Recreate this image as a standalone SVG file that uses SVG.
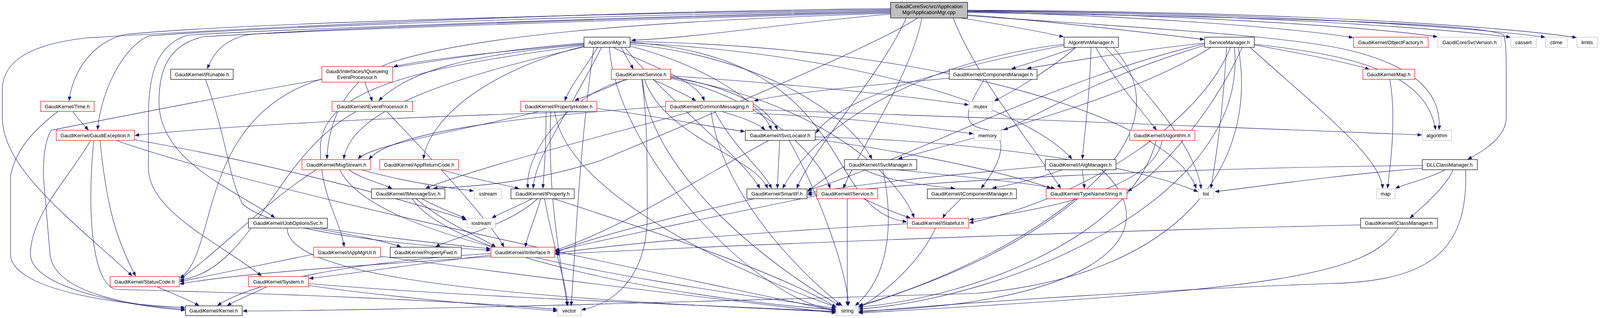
<svg xmlns="http://www.w3.org/2000/svg" width="4531" height="813" viewBox="0 0 4531 813">
<style>
.e path{fill:none;stroke:#191970;stroke-width:1.1;marker-end:url(#a)}
.b{fill:#fff;stroke:#000;stroke-width:1.2}
.r{fill:#fff;stroke:#ff0000;stroke-width:1.2}
.g{fill:#fff;stroke:#bfbfbf;stroke-width:1.2}
.root{fill:#bfbfbf;stroke:#000;stroke-width:1.2}
text{font-family:"Liberation Sans",Arial,Helvetica,sans-serif;font-size:13px;text-anchor:middle;fill:#000}
</style>
<defs>
<marker id="a" markerWidth="11" markerHeight="8" refX="10" refY="4" orient="auto" markerUnits="userSpaceOnUse"><path d="M0,0 L10,4 L0,8 z" fill="#191970" stroke="#191970"/></marker>
</defs>
<rect width="4531" height="813" fill="#fff"/>
<g class="e" id="edges">
<path d="M2280,36 C2000,60 1800,95 1617,103"/>
<path d="M2460,46 C2560,62 2650,78 2722,94"/>
<path d="M2477,38 C2700,55 2950,85 3082,101"/>
<path d="M2477,30 C2900,40 3300,70 3463,96"/>
<path d="M2477,29 C3000,36 3500,68 3679,94"/>
<path d="M2477,28 C3100,33 3650,68 3866,95"/>
<path d="M2477,27 C3200,31 3750,68 3955,95"/>
<path d="M2477,26 C3300,29 3850,68 4035,96"/>
<path d="M2477,32 C3300,45 3800,60 3850,90 C3856,110 3856,150 3856,200 L3856,300 C3856,350 3800,385 3758,407"/>
<path d="M2477,40 C2900,70 3300,90 3460,130 C3640,175 3690,250 3684,331"/>
<path d="M2280,24 C1500,35 600,60 320,88 C230,110 185,190 177,257"/>
<path d="M2280,26 C1500,40 650,70 380,92 C300,130 255,260 250,331"/>
<path d="M2280,22 C1400,30 500,80 220,97 C90,112 6,150 6,230 L6,300 C6,430 180,560 338,705"/>
<path d="M2280,30 C1500,48 800,75 640,88 C570,100 545,140 531,175"/>
<path d="M2280,32 C1500,52 700,82 520,94 C430,115 407,180 407,260 C407,410 590,480 703,556"/>
<path d="M2280,28 C1500,46 650,78 480,90 C400,115 380,190 380,300 L380,430 C380,540 560,620 669,705"/>
<path d="M2280,34 C1600,55 1200,95 1000,160 C870,210 840,330 837,406"/>
<path d="M2349,46 C2250,113 1800,300 1539,410 C1350,470 1200,478 1110,481"/>
<path d="M2320,46 C2250,200 2080,380 2040,481"/>
<path d="M2360,46 C2330,200 2200,380 2159,481"/>
<path d="M2440,46 C2500,200 2650,380 2715,481"/>
<path d="M1495,112 C1300,130 1100,150 1008,170"/>
<path d="M1495,114 C1200,140 1050,180 970,257"/>
<path d="M1590,121 C1600,140 1612,160 1621,176"/>
<path d="M1530,121 C1500,170 1460,220 1446,257"/>
<path d="M1570,121 C1640,160 1780,200 1803,257"/>
<path d="M1613,118 C1780,160 1940,250 1975,331"/>
<path d="M1613,113 C1900,140 2150,260 2232,406"/>
<path d="M1613,110 C2100,130 2600,250 2744,406"/>
<path d="M1613,108 C2200,150 2100,540 2321,567"/>
<path d="M1495,116 C1100,170 820,220 820,380 C820,500 870,560 881,630"/>
<path d="M1495,118 C1250,180 1100,300 1084,406"/>
<path d="M1540,121 C1450,300 1370,400 1365,481"/>
<path d="M1495,120 C1150,200 900,280 880,406"/>
<path d="M1495,110 C1100,140 400,280 131,333 C115,360 111,400 111,450 L128,650 C140,760 380,785 473,790"/>
<path d="M1613,106 C2400,120 3000,300 3062,481"/>
<path d="M1560,121 C1580,400 1950,780 2139,791"/>
<path d="M1520,121 C1480,400 1470,700 1462,781"/>
<path d="M1600,121 C1700,250 1900,400 1945,481"/>
<path d="M934,210 C940,230 948,245 953,258"/>
<path d="M824,202 C500,300 560,650 461,710"/>
<path d="M912,285 C700,400 650,690 461,716"/>
<path d="M990,285 C1100,400 1250,560 1290,631"/>
<path d="M186,285 C200,305 215,320 226,332"/>
<path d="M148,285 C90,330 40,380 27,450 L27,650 C27,740 300,780 473,786"/>
<path d="M256,359 C270,500 290,600 347,705"/>
<path d="M232,359 C180,450 78,550 78,650 C78,740 350,785 473,793"/>
<path d="M344,357 C700,420 1000,500 1194,562"/>
<path d="M297,359 C700,500 1700,700 2139,795"/>
<path d="M240,359 C220,560 240,735 300,740 C700,750 1200,770 1426,791"/>
<path d="M526,203 C580,350 584,450 620,520 C700,600 1100,630 1255,640"/>
<path d="M1600,203 C1560,225 1500,245 1472,257"/>
<path d="M1670,203 C1720,225 1760,245 1781,257"/>
<path d="M1717,196 C1850,220 1960,260 1990,331"/>
<path d="M1607,203 C1450,240 1340,400 1352,481"/>
<path d="M1717,200 C1950,250 2100,400 2125,481"/>
<path d="M1717,198 C2100,260 2300,450 2340,556"/>
<path d="M1650,203 C1700,350 1930,400 1965,481"/>
<path d="M1717,194 C2100,220 2350,250 2479,268"/>
<path d="M1645,203 C1660,450 2000,700 2150,781"/>
<path d="M1643,203 C1657,300 1657,400 1657,550 C1657,700 1580,775 1489,792"/>
<path d="M1510,285 C1000,300 600,320 346,346"/>
<path d="M1398,285 C1398,400 1392,440 1390,481"/>
<path d="M1380,285 C1200,330 950,370 917,406"/>
<path d="M1420,285 C1450,500 1900,700 2140,785"/>
<path d="M1410,285 C1400,500 1440,700 1452,781"/>
<path d="M1528,277 C1700,300 1850,330 1906,336"/>
<path d="M1847,285 C1900,300 1940,315 1958,332"/>
<path d="M1771,285 C1500,360 1250,420 1090,481"/>
<path d="M1830,285 C1880,380 1950,430 1975,481"/>
<path d="M1928,290 C2200,300 2400,330 2491,342"/>
<path d="M1820,285 C1850,500 2050,700 2155,781"/>
<path d="M1704,272 C1300,300 1000,340 945,407"/>
<path d="M1928,280 C2500,300 3300,330 3639,345"/>
<path d="M1996,359 C1994,400 1992,440 1990,481"/>
<path d="M1968,359 C1800,450 1600,580 1422,640"/>
<path d="M2020,359 C2100,500 2170,700 2172,781"/>
<path d="M2087,350 C2500,360 2900,420 3066,490"/>
<path d="M2087,356 C2400,400 2600,450 2690,481"/>
<path d="M2520,203 C2470,280 2460,320 2520,330 C2580,340 2575,400 2512,481"/>
<path d="M2430,200 C2200,220 2000,240 1931,258"/>
<path d="M2755,121 C2700,140 2640,160 2590,176"/>
<path d="M2754,121 C2700,170 2600,230 2546,258"/>
<path d="M2805,121 C2850,200 2920,280 2960,332"/>
<path d="M2793,121 C2790,250 2775,350 2771,406"/>
<path d="M2724,113 C2400,150 2100,300 2004,481"/>
<path d="M2830,121 C2950,250 3060,380 3075,482"/>
<path d="M2850,121 C3100,400 2500,700 2199,781"/>
<path d="M2724,116 C2400,180 2150,250 2089,340"/>
<path d="M3084,110 C2900,130 2750,155 2630,175"/>
<path d="M3211,115 C3350,140 3450,160 3505,177"/>
<path d="M3211,113 C3450,140 3650,180 3675,331"/>
<path d="M3140,121 C3130,300 3110,420 3100,481"/>
<path d="M3200,121 C3400,300 3530,400 3540,481"/>
<path d="M3084,116 C2800,200 2650,300 2570,332"/>
<path d="M3084,112 C2700,200 2300,420 2068,486"/>
<path d="M3100,121 C2900,250 2500,350 2300,406"/>
<path d="M3160,121 C3200,500 2600,760 2199,790"/>
<path d="M3170,121 C3220,400 3050,700 2500,750 C1500,780 900,795 622,795"/>
<path d="M3150,121 C3080,300 2800,500 2482,570"/>
<path d="M3180,121 C3100,300 2950,460 2887,488"/>
<path d="M3558,203 C3575,300 3560,420 3552,481"/>
<path d="M2975,359 C2960,450 2800,520 2482,562"/>
<path d="M2960,359 C2900,600 2500,760 2199,785"/>
<path d="M2215,434 C2250,455 2330,470 2444,482"/>
<path d="M2295,434 C2500,455 2650,470 2700,482"/>
<path d="M2162,425 C2120,450 2090,470 2068,490"/>
<path d="M2260,434 C2285,550 2285,700 2190,781"/>
<path d="M2720,434 C2660,455 2600,470 2541,481"/>
<path d="M2770,434 C2773,450 2775,465 2776,481"/>
<path d="M2676,425 C2400,450 2200,470 2068,494"/>
<path d="M2820,434 C3000,600 2800,780 2199,795"/>
<path d="M3641,430 C3400,450 3200,480 3111,490"/>
<path d="M3700,434 C3660,455 3600,470 3573,481"/>
<path d="M3720,434 C3700,480 3640,530 3610,557"/>
<path d="M3752,434 C3760,650 3650,720 3400,725 C3000,740 2500,770 2199,798"/>
<path d="M3641,423 C3000,430 2400,460 2068,498"/>
<path d="M3483,575 C2800,590 1800,630 1422,650"/>
<path d="M3580,583 C3500,700 3300,740 2199,800"/>
<path d="M1080,508 C1120,530 1160,545 1192,558"/>
<path d="M1065,508 C1150,580 1240,610 1268,631"/>
<path d="M1055,508 C1150,650 1700,760 2139,792"/>
<path d="M893,434 C920,455 980,470 1003,482"/>
<path d="M925,434 C1000,455 1100,475 1212,488"/>
<path d="M870,434 C950,600 1500,700 2139,788"/>
<path d="M810,434 C700,500 550,650 463,712"/>
<path d="M1130,434 C1200,455 1280,470 1328,482"/>
<path d="M1362,508 C1320,530 1280,545 1260,557"/>
<path d="M1376,508 C1300,580 1150,610 1116,631"/>
<path d="M1384,508 C1370,560 1350,600 1345,631"/>
<path d="M1394,508 C1420,650 1450,720 1453,781"/>
<path d="M1417,508 C1700,600 2000,700 2140,785"/>
<path d="M1931,508 C1700,560 1500,610 1422,646"/>
<path d="M2169,508 C2169,600 2169,700 2169,781"/>
<path d="M2210,508 C2260,530 2290,545 2330,557"/>
<path d="M2091,500 C1800,560 1600,600 1422,642"/>
<path d="M2460,508 C2440,530 2420,545 2414,557"/>
<path d="M2759,508 C2600,640 2400,720 2199,784"/>
<path d="M2323,572 C2000,590 1600,620 1422,648"/>
<path d="M2395,583 C2350,680 2250,760 2199,786"/>
<path d="M800,583 C900,600 980,615 1026,631"/>
<path d="M820,583 C1000,610 1150,625 1255,636"/>
<path d="M735,583 C735,700 1200,760 2139,797"/>
<path d="M803,650 C700,670 560,700 461,720"/>
<path d="M974,655 C1300,700 1800,760 2139,800"/>
<path d="M1257,652 C1100,670 900,700 792,712"/>
<path d="M1257,656 C900,680 600,700 461,726"/>
<path d="M1257,648 C900,670 650,720 557,781"/>
<path d="M683,733 C650,750 610,765 582,781"/>
<path d="M790,725 C1200,760 1800,780 2139,796"/>
<path d="M790,730 C1000,760 1300,785 1426,795"/>
<path d="M402,733 C440,750 480,765 509,781"/>
</g>
<g id="n_root"><rect class="root" x="2280" y="6" width="197" height="40"/><text x="2378" y="21">GaudiCoreSvc/src/Application</text><text x="2378" y="36">Mgr/ApplicationMgr.cpp</text></g>
<g id="n_appmgr"><rect class="b" x="1495" y="95" width="118" height="26"/><text x="1554" y="112.5">ApplicationMgr.h</text></g>
<g id="n_algmgr"><rect class="b" x="2724" y="95" width="139" height="26"/><text x="2793" y="112.5">AlgorithmManager.h</text></g>
<g id="n_svcmgr"><rect class="b" x="3084" y="95" width="127" height="26"/><text x="3147" y="112.5">ServiceManager.h</text></g>
<g id="n_objfac"><rect class="r" x="3465" y="95" width="191" height="26"/><text x="3560" y="112.5">GaudiKernel/ObjectFactory.h</text></g>
<g id="n_ver"><rect class="g" x="3681" y="95" width="162" height="26"/><text x="3762" y="112.5">GaudiCoreSvcVersion.h</text></g>
<g id="n_cassert"><rect class="g" x="3868" y="95" width="65" height="26"/><text x="3900" y="112.5">cassert</text></g>
<g id="n_ctime"><rect class="g" x="3957" y="95" width="55" height="26"/><text x="3984" y="112.5">ctime</text></g>
<g id="n_limits"><rect class="g" x="4037" y="95" width="53" height="26"/><text x="4063" y="112.5">limits</text></g>
<g id="n_irunable"><rect class="b" x="437" y="177" width="160" height="26"/><text x="517" y="194.5">GaudiKernel/IRunable.h</text></g>
<g id="n_iqep"><rect class="r" x="824" y="170" width="181" height="40"/><text x="914" y="186.5">Gaudi/Interfaces/IQueueing</text><text x="914" y="201.5">EventProcessor.h</text></g>
<g id="n_service"><rect class="r" x="1565" y="177" width="152" height="26"/><text x="1641" y="194.5">GaudiKernel/Service.h</text></g>
<g id="n_compmgr"><rect class="b" x="2430" y="177" width="225" height="26"/><text x="2542" y="194.5">GaudiKernel/ComponentManager.h</text></g>
<g id="n_maph"><rect class="r" x="3489" y="177" width="133" height="26"/><text x="3555" y="194.5">GaudiKernel/Map.h</text></g>
<g id="n_time"><rect class="r" x="104" y="259" width="137" height="26"/><text x="172" y="276.5">GaudiKernel/Time.h</text></g>
<g id="n_iep"><rect class="r" x="850" y="259" width="206" height="26"/><text x="953" y="276.5">GaudiKernel/IEventProcessor.h</text></g>
<g id="n_propholder"><rect class="r" x="1333" y="259" width="195" height="26"/><text x="1430" y="276.5">GaudiKernel/PropertyHolder.h</text></g>
<g id="n_commsg"><rect class="r" x="1704" y="259" width="224" height="26"/><text x="1816" y="276.5">GaudiKernel/CommonMessaging.h</text></g>
<g id="n_mutex"><rect class="g" x="2481" y="259" width="59" height="26"/><text x="2510" y="276.5">mutex</text></g>
<g id="n_gexc"><rect class="r" x="144" y="333" width="200" height="26"/><text x="244" y="350.5">GaudiKernel/GaudiException.h</text></g>
<g id="n_isvcloc"><rect class="b" x="1908" y="333" width="179" height="26"/><text x="1997" y="350.5">GaudiKernel/ISvcLocator.h</text></g>
<g id="n_memory"><rect class="g" x="2493" y="333" width="70" height="26"/><text x="2528" y="350.5">memory</text></g>
<g id="n_ialg"><rect class="r" x="2892" y="333" width="167" height="26"/><text x="2975" y="350.5">GaudiKernel/IAlgorithm.h</text></g>
<g id="n_algorithm"><rect class="g" x="3641" y="333" width="75" height="26"/><text x="3678" y="350.5">algorithm</text></g>
<g id="n_msgstream"><rect class="r" x="773" y="408" width="176" height="26"/><text x="861" y="425.5">GaudiKernel/MsgStream.h</text></g>
<g id="n_apprc"><rect class="r" x="972" y="408" width="202" height="26"/><text x="1073" y="425.5">GaudiKernel/AppReturnCode.h</text></g>
<g id="n_isvcmgr"><rect class="b" x="2162" y="408" width="185" height="26"/><text x="2254" y="425.5">GaudiKernel/ISvcManager.h</text></g>
<g id="n_ialgmgr"><rect class="b" x="2676" y="408" width="181" height="26"/><text x="2766" y="425.5">GaudiKernel/IAlgManager.h</text></g>
<g id="n_dllcm"><rect class="b" x="3641" y="408" width="141" height="26"/><text x="3711" y="425.5">DLLClassManager.h</text></g>
<g id="n_imsgsvc"><rect class="b" x="951" y="483" width="188" height="25"/><text x="1045" y="500">GaudiKernel/IMessageSvc.h</text></g>
<g id="n_sstream"><rect class="g" x="1214" y="483" width="70" height="25"/><text x="1249" y="500">sstream</text></g>
<g id="n_iprop"><rect class="b" x="1308" y="483" width="162" height="25"/><text x="1389" y="500">GaudiKernel/IProperty.h</text></g>
<g id="n_smartif"><rect class="b" x="1912" y="483" width="154" height="25"/><text x="1989" y="500">GaudiKernel/SmartIF.h</text></g>
<g id="n_iservice"><rect class="r" x="2091" y="483" width="156" height="25"/><text x="2169" y="500">GaudiKernel/IService.h</text></g>
<g id="n_icompmgr"><rect class="b" x="2374" y="483" width="228" height="25"/><text x="2488" y="500">GaudiKernel/IComponentManager.h</text></g>
<g id="n_tns"><rect class="r" x="2678" y="483" width="207" height="25"/><text x="2781" y="500">GaudiKernel/TypeNameString.h</text></g>
<g id="n_list"><rect class="g" x="3068" y="483" width="39" height="25"/><text x="3087" y="500">list</text></g>
<g id="n_map"><rect class="g" x="3524" y="483" width="47" height="25"/><text x="3547" y="500">map</text></g>
<g id="n_ijobopt"><rect class="b" x="636" y="558" width="202" height="25"/><text x="737" y="575">GaudiKernel/IJobOptionsSvc.h</text></g>
<g id="n_iostream"><rect class="g" x="1196" y="558" width="72" height="25"/><text x="1232" y="575">iostream</text></g>
<g id="n_istateful"><rect class="r" x="2323" y="558" width="157" height="25"/><text x="2401" y="575">GaudiKernel/IStateful.h</text></g>
<g id="n_iclsmgr"><rect class="b" x="3483" y="558" width="197" height="25"/><text x="3581" y="575">GaudiKernel/IClassManager.h</text></g>
<g id="n_iappmgrui"><rect class="r" x="803" y="632" width="171" height="26"/><text x="888" y="649.5">GaudiKernel/IAppMgrUI.h</text></g>
<g id="n_propfwd"><rect class="b" x="999" y="632" width="182" height="26"/><text x="1090" y="649.5">GaudiKernel/PropertyFwd.h</text></g>
<g id="n_iinterface"><rect class="r" x="1257" y="632" width="163" height="26"/><text x="1338" y="649.5">GaudiKernel/IInterface.h</text></g>
<g id="n_statuscode"><rect class="r" x="282" y="707" width="177" height="26"/><text x="370" y="724.5">GaudiKernel/StatusCode.h</text></g>
<g id="n_system"><rect class="r" x="636" y="707" width="154" height="26"/><text x="713" y="724.5">GaudiKernel/System.h</text></g>
<g id="n_kernel"><rect class="b" x="475" y="782" width="145" height="25"/><text x="547" y="799">GaudiKernel/Kernel.h</text></g>
<g id="n_vector"><rect class="g" x="1428" y="782" width="59" height="25"/><text x="1457" y="799">vector</text></g>
<g id="n_string"><rect class="g" x="2141" y="782" width="56" height="25"/><text x="2169" y="799">string</text></g>
</svg>
